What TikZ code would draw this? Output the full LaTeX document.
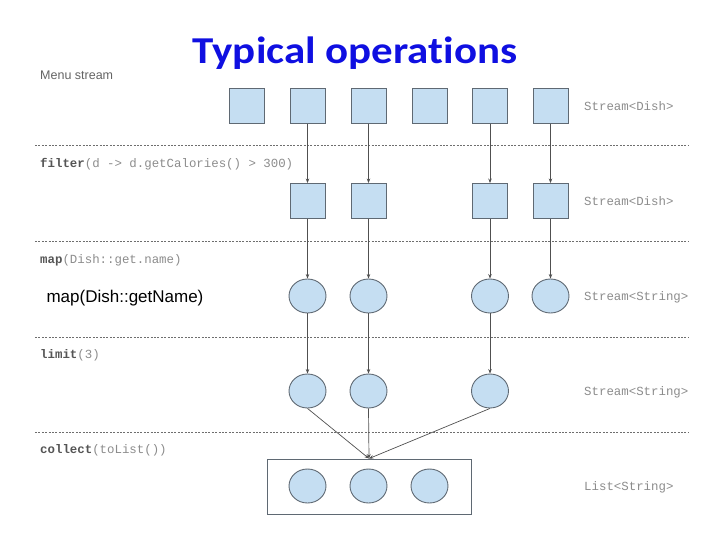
\documentclass[tikz,border=0pt]{standalone}
\usepackage{fontspec}
\usepackage{graphicx}
\setmainfont{Liberation Sans}
\newfontfamily\titlefont[Ligatures=NoCommon]{Carlito}
\newfontfamily\codefont{Liberation Mono}
\usetikzlibrary{arrows.meta,shapes.geometric}
\definecolor{cellfill}{RGB}{197,222,242}
\definecolor{celldraw}{RGB}{95,105,115}
\definecolor{connc}{RGB}{80,80,80}
\definecolor{sepc}{RGB}{110,110,110}
\definecolor{codec}{RGB}{140,140,140}
\definecolor{codeb}{RGB}{85,85,85}
\definecolor{titleblue}{RGB}{15,15,225}
\begin{document}
\begin{tikzpicture}[x=1pt,y=-1pt,
  sq/.style={draw=celldraw, fill=cellfill, line width=0.9pt, minimum size=35pt, inner sep=0pt},
  circ/.style={ellipse, draw=celldraw, fill=cellfill, line width=0.9pt, minimum width=37pt, minimum height=34pt, inner sep=0pt},
  conn/.style={draw=connc, line width=0.7pt, -{Stealth[length=4.5pt,width=3.5pt]}},
  sep/.style={draw=sepc, line width=0.8pt, dash pattern=on 2pt off 1.4pt},
  code/.style={font=\codefont\fontsize{12.4}{14}\selectfont, text=codec, anchor=west, inner sep=0pt},
  box/.style={draw=celldraw, line width=0.9pt, fill=white, minimum width=204pt, minimum height=55pt, inner sep=0pt}
]
\useasboundingbox (0,0) rectangle (720,540);

% title
\node[anchor=base, inner sep=0pt, text=titleblue, font=\titlefont\bfseries\fontsize{38}{42}\selectfont] (title) at (355,64) {\scalebox{1.13}[1]{Typical operations}};

% separators
\foreach \yy in {145,241,337,432} {
  \draw[sep] (35,\yy) -- (689,\yy);
}

% left labels
\node[anchor=west, inner sep=0pt, text={rgb,255:red,100;green,100;blue,100}, font=\fontsize{12.5}{14}\selectfont] (menu) at (40,75) {Menu stream};
\node[code] (lfilter) at (40,164) {{\bfseries\color{codeb}filter}(d -> d.getCalories() > 300)};
\node[code] (lmap) at (40,260) {{\bfseries\color{codeb}map}(Dish::get.name)};
\node[code] (llimit) at (40,355) {{\bfseries\color{codeb}limit}(3)};
\node[code] (lcollect) at (40,450) {{\bfseries\color{codeb}collect}(toList())};
\node[inner sep=0pt, font=\fontsize{17}{20}\selectfont] (big) at (125,298) {map(Dish::getName)};

% right labels
\node[code] (t1) at (584,106) {Stream<Dish>};
\node[code] (t2) at (584,201) {Stream<Dish>};
\node[code] (t3) at (584,297) {Stream<String>};
\node[code] (t4) at (584,392) {Stream<String>};
\node[code] (t5) at (584,487) {List<String>};

% row 1
\node[sq] (a1) at (246.5,106) {};
\node[sq] (a2) at (307.5,106) {};
\node[sq] (a3) at (368.5,106) {};
\node[sq] (a4) at (429.5,106) {};
\node[sq] (a5) at (490,106) {};
\node[sq] (a6) at (550.5,106) {};
% row 2
\node[sq] (b2) at (307.5,201) {};
\node[sq] (b3) at (368.5,201) {};
\node[sq] (b5) at (490,201) {};
\node[sq] (b6) at (550.5,201) {};
% row 3
\node[circ] (c2) at (307.5,296) {};
\node[circ] (c3) at (368.5,296) {};
\node[circ] (c5) at (490,296) {};
\node[circ] (c6) at (550.5,296) {};
% row 4
\node[circ] (d2) at (307.5,391) {};
\node[circ] (d3) at (368.5,391) {};
\node[circ] (d5) at (490,391) {};
% result box
\node[box] (list) at (369,486.5) {};
\node[circ] (e1) at (307.5,486) {};
\node[circ] (e2) at (368.5,486) {};
\node[circ] (e3) at (429.5,486) {};

% connectors
\foreach \n in {2,3,5,6} {
  \draw[conn] (a\n) -- (b\n);
  \draw[conn] (b\n) -- (c\n);
}
\foreach \n in {2,3,5} {
  \draw[conn] (c\n) -- (d\n);
}
\draw[conn] (d2.south) -- (list.north);
\draw[conn] (d3.south) -- (list.north);
\draw[conn] (d5.south) -- (list.north);
\end{tikzpicture}
\end{document}
